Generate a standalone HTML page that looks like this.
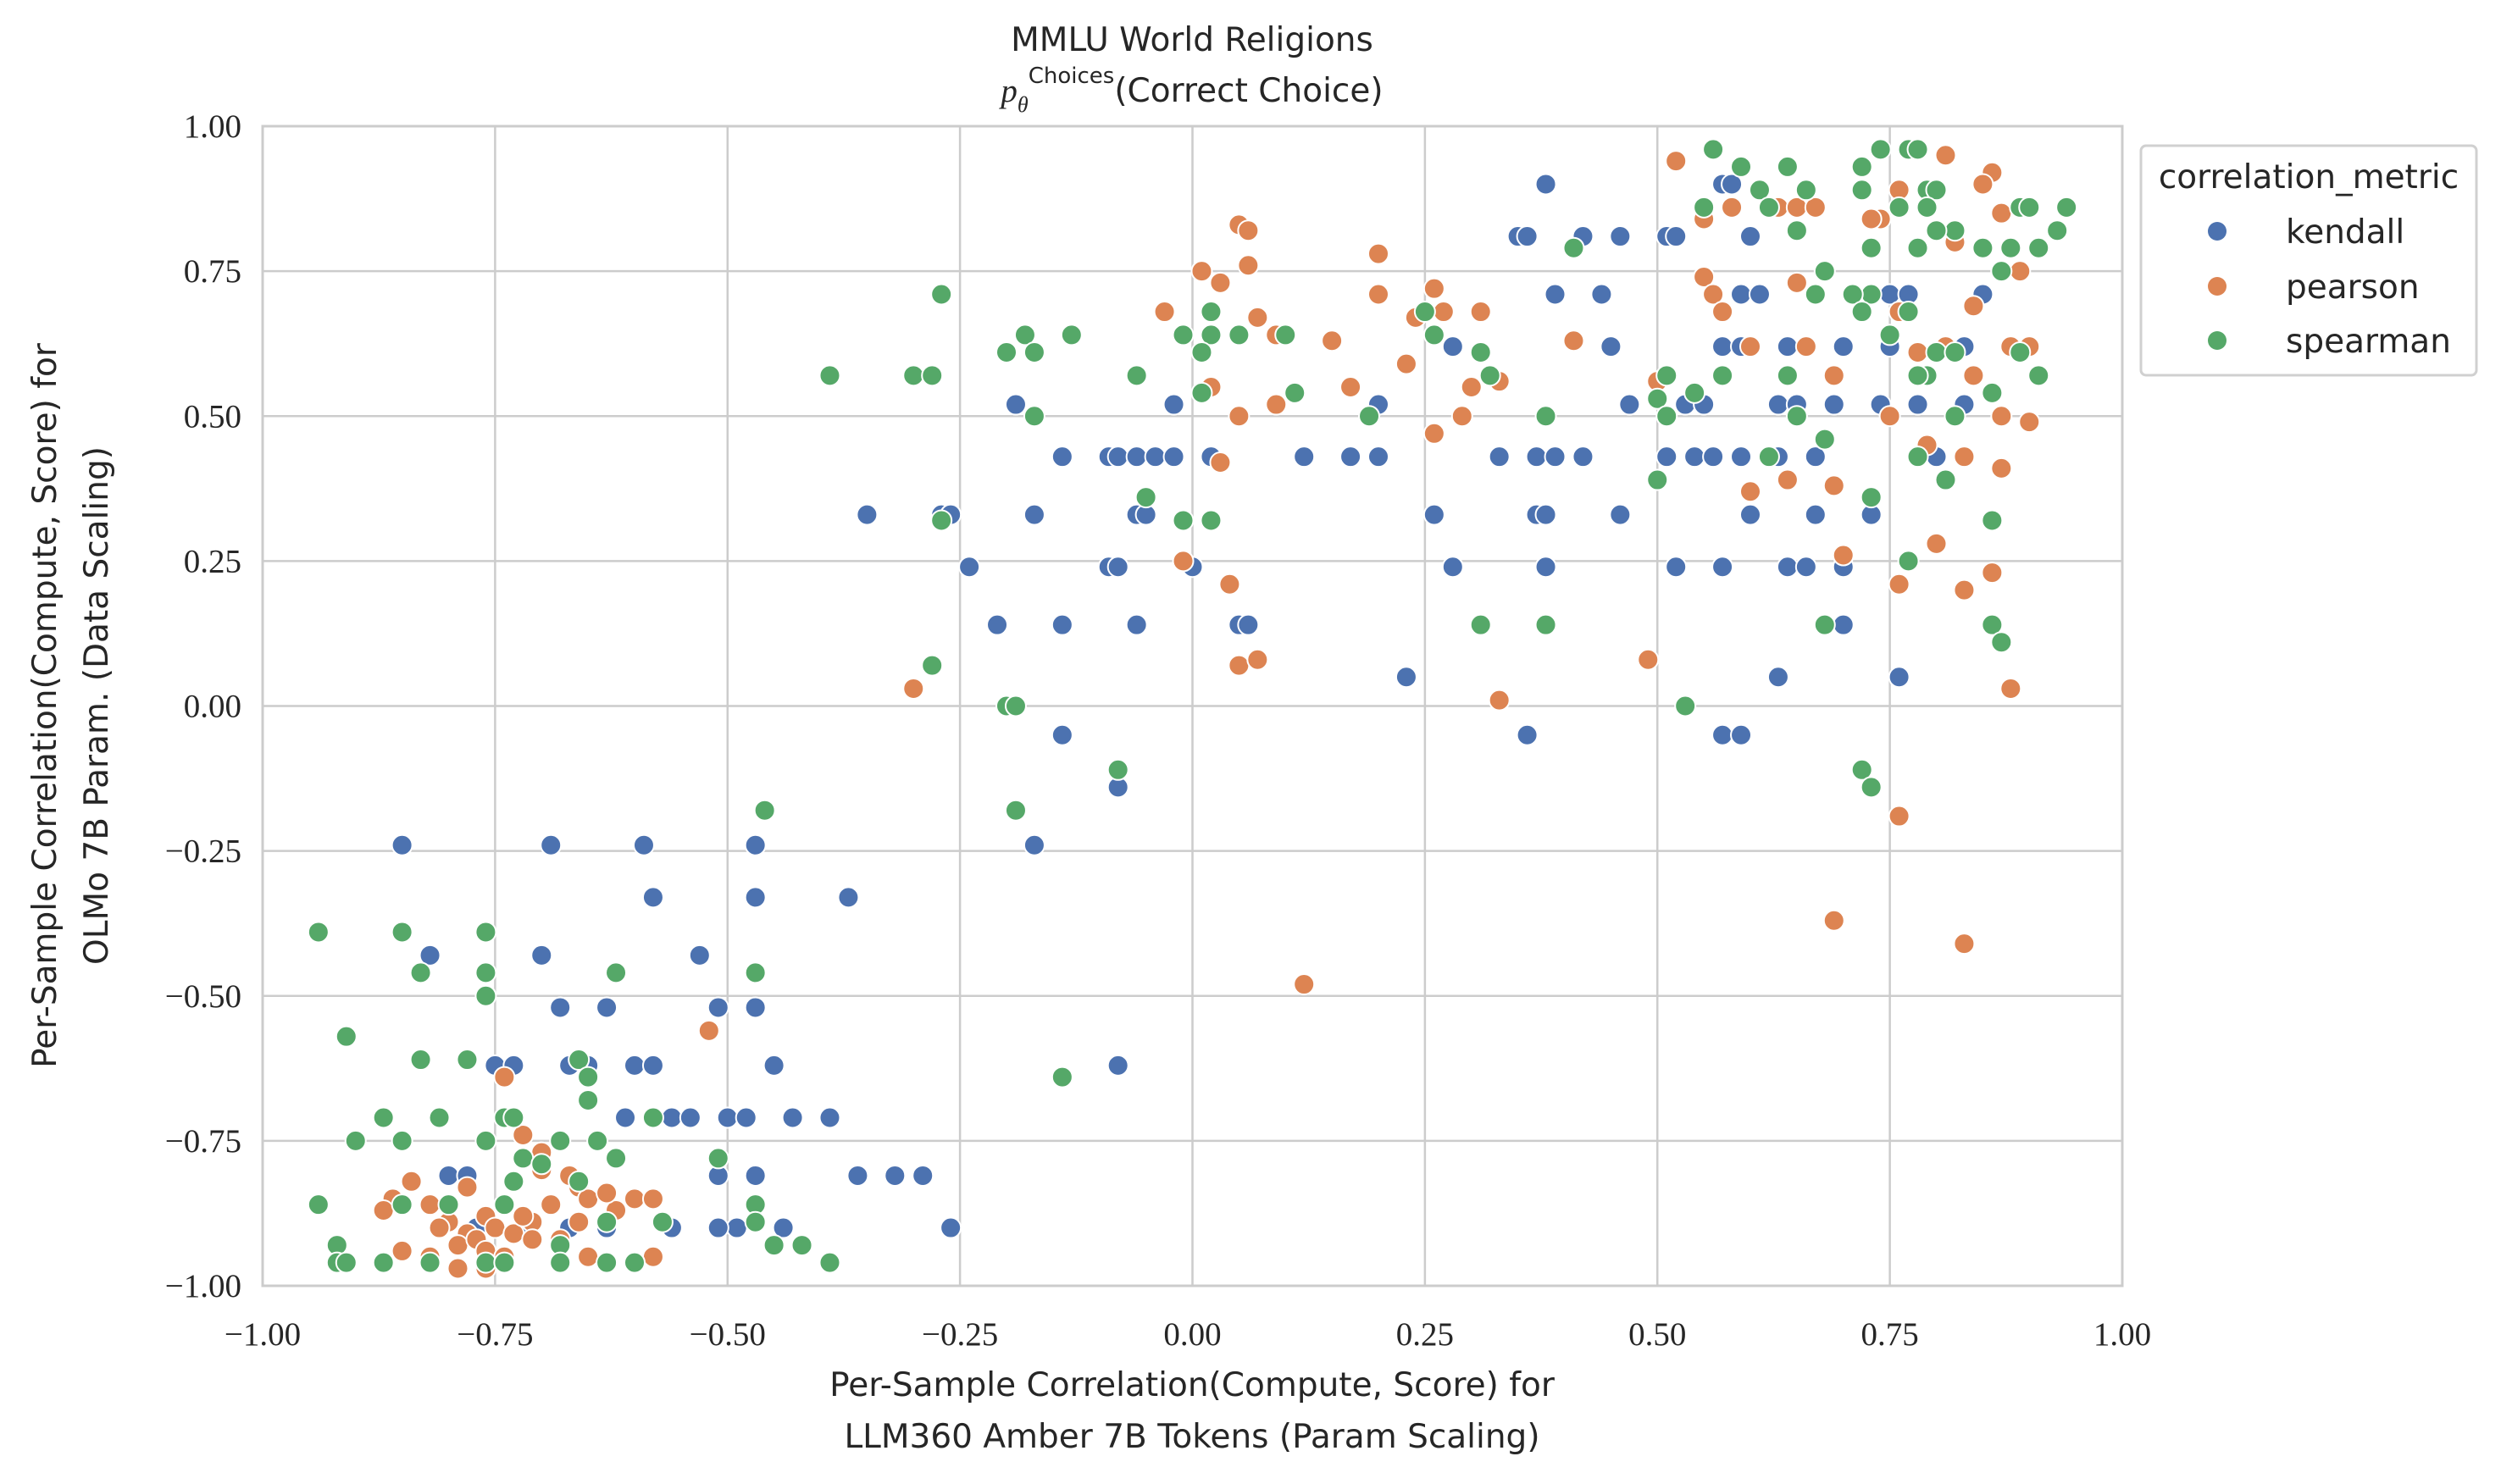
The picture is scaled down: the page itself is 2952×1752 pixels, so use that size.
<!DOCTYPE html>
<html><head><meta charset="utf-8"><style>
html,body{margin:0;padding:0;background:#fff;}
svg{display:block;}
.tick{font-family:"Liberation Serif","DejaVu Serif",serif;font-size:39px;fill:#262626;}
.lab{font-family:"DejaVu Sans","Liberation Sans",sans-serif;font-size:39px;fill:#262626;}
</style></head><body>
<svg id="chart" width="2952" height="1752" viewBox="0 0 2952 1752" xmlns="http://www.w3.org/2000/svg">
<rect width="2952" height="1752" fill="#fff"/>
<g id="grid"></g>
<g id="points"></g>
<rect x="310" y="149" width="2195" height="1369" fill="none" stroke="#cccccc" stroke-width="3"/>
<g id="ticks"></g>
<text class="lab" x="1407" y="60" text-anchor="middle">MMLU World Religions</text>
<text class="lab" x="1407" y="120" text-anchor="middle"><tspan font-family="Liberation Serif,serif" font-style="italic">p</tspan><tspan font-family="Liberation Serif,serif" font-style="italic" font-size="26" dy="12">θ</tspan><tspan font-size="26" dy="-34">Choices</tspan><tspan dy="22">(Correct Choice)</tspan></text>
<text class="lab" x="1407" y="1648" text-anchor="middle">Per-Sample Correlation(Compute, Score) for</text>
<text class="lab" x="1407" y="1709" text-anchor="middle">LLM360 Amber 7B Tokens (Param Scaling)</text>
<g transform="translate(0,833) rotate(-90)">
<text class="lab" x="0" y="66" text-anchor="middle">Per-Sample Correlation(Compute, Score) for</text>
<text class="lab" x="0" y="127" text-anchor="middle">OLMo 7B Param. (Data Scaling)</text>
</g>
<g>
<rect x="2527" y="172" width="396" height="271" rx="6" fill="#fff" stroke="#d0d0d0" stroke-width="3"/>
<text class="lab" x="2725" y="222" text-anchor="middle">correlation_metric</text>
<circle cx="2617" cy="273" r="11" fill="#4c72b0"/>
<text class="lab" x="2698" y="287">kendall</text>
<circle cx="2617" cy="338" r="11" fill="#dd8452"/>
<text class="lab" x="2698" y="352">pearson</text>
<circle cx="2617" cy="402" r="11" fill="#55a868"/>
<text class="lab" x="2698" y="416">spearman</text>
</g>
</svg>
<script>
const xTicks=[-1,-0.75,-0.5,-0.25,0,0.25,0.5,0.75,1];
const yTicks=[-1,-0.75,-0.5,-0.25,0,0.25,0.5,0.75,1];
const kendall=[[0.38,0.90],[0.35,0.81],[0.36,0.81],[0.42,0.81],[0.46,0.81],[0.51,0.81],[0.52,0.81],[0.60,0.81],[0.55,0.86],[0.57,0.90],[0.58,0.90],[0.39,0.71],[0.44,0.71],[0.59,0.71],[0.61,0.71],[0.75,0.71],[0.77,0.71],[0.85,0.71],[0.28,0.62],[0.45,0.62],[0.57,0.62],[0.59,0.62],[0.64,0.62],[0.70,0.62],[0.75,0.62],[0.83,0.62],[0.20,0.52],[0.53,0.52],[0.55,0.52],[0.63,0.52],[0.65,0.52],[0.69,0.52],[0.74,0.52],[0.78,0.52],[0.83,0.52],[0.47,0.52],[-0.19,0.52],[-0.02,0.52],[-0.09,0.43],[-0.08,0.43],[-0.06,0.43],[-0.04,0.43],[-0.02,0.43],[0.02,0.43],[0.12,0.43],[0.17,0.43],[0.20,0.43],[-0.14,0.43],[0.33,0.43],[0.37,0.43],[0.39,0.43],[0.42,0.43],[0.51,0.43],[0.54,0.43],[0.56,0.43],[0.59,0.43],[0.63,0.43],[0.67,0.43],[0.78,0.43],[0.80,0.43],[-0.17,0.33],[-0.35,0.33],[-0.27,0.33],[-0.26,0.33],[-0.06,0.33],[-0.05,0.33],[0.26,0.33],[0.37,0.33],[0.38,0.33],[0.46,0.33],[0.60,0.33],[0.67,0.33],[0.73,0.33],[-0.24,0.24],[-0.09,0.24],[-0.08,0.24],[0.00,0.24],[0.28,0.24],[0.38,0.24],[0.52,0.24],[0.57,0.24],[0.64,0.24],[0.66,0.24],[0.70,0.24],[-0.21,0.14],[-0.14,0.14],[-0.06,0.14],[0.05,0.14],[0.06,0.14],[0.70,0.14],[0.23,0.05],[0.63,0.05],[0.76,0.05],[-0.14,-0.05],[0.36,-0.05],[0.57,-0.05],[0.59,-0.05],[-0.08,-0.14],[-0.17,-0.24],[-0.08,-0.62],[-0.85,-0.24],[-0.69,-0.24],[-0.59,-0.24],[-0.47,-0.24],[-0.47,-0.33],[-0.58,-0.33],[-0.37,-0.33],[-0.82,-0.43],[-0.70,-0.43],[-0.53,-0.43],[-0.68,-0.52],[-0.63,-0.52],[-0.51,-0.52],[-0.47,-0.52],[-0.75,-0.62],[-0.73,-0.62],[-0.67,-0.62],[-0.65,-0.62],[-0.60,-0.62],[-0.58,-0.62],[-0.45,-0.62],[-0.61,-0.71],[-0.56,-0.71],[-0.54,-0.71],[-0.50,-0.71],[-0.48,-0.71],[-0.43,-0.71],[-0.39,-0.71],[-0.81,-0.71],[-0.51,-0.81],[-0.47,-0.81],[-0.36,-0.81],[-0.32,-0.81],[-0.29,-0.81],[-0.80,-0.81],[-0.78,-0.81],[-0.74,-0.86],[-0.63,-0.90],[-0.67,-0.90],[-0.56,-0.90],[-0.49,-0.90],[-0.44,-0.90],[-0.26,-0.90],[-0.77,-0.90],[-0.72,-0.90],[-0.51,-0.90]];
const pearson=[[0.52,0.94],[0.81,0.95],[0.86,0.92],[0.85,0.90],[0.76,0.89],[0.79,0.86],[0.58,0.86],[0.63,0.86],[0.65,0.86],[0.67,0.86],[0.74,0.84],[0.73,0.84],[0.55,0.84],[0.05,0.83],[0.06,0.82],[0.20,0.78],[0.06,0.76],[0.01,0.75],[0.55,0.74],[0.65,0.73],[0.03,0.73],[0.56,0.71],[0.20,0.71],[0.87,0.75],[0.89,0.75],[0.26,0.72],[-0.03,0.68],[0.07,0.67],[0.24,0.67],[0.27,0.68],[0.31,0.68],[0.57,0.68],[0.76,0.68],[0.84,0.69],[0.15,0.63],[0.41,0.63],[0.60,0.62],[0.66,0.62],[0.81,0.62],[0.88,0.62],[0.90,0.62],[0.09,0.64],[0.23,0.59],[0.33,0.56],[0.30,0.55],[0.17,0.55],[0.02,0.55],[0.69,0.57],[0.84,0.57],[0.50,0.56],[0.05,0.50],[0.09,0.52],[0.29,0.50],[0.75,0.50],[0.87,0.50],[0.90,0.49],[0.26,0.47],[0.79,0.45],[0.83,0.43],[0.64,0.39],[0.60,0.37],[0.69,0.38],[0.87,0.41],[0.03,0.42],[-0.01,0.25],[0.04,0.21],[0.70,0.26],[0.80,0.28],[0.76,0.21],[0.83,0.20],[0.86,0.23],[0.05,0.07],[0.07,0.08],[0.49,0.08],[-0.30,0.03],[0.33,0.01],[0.88,0.03],[0.76,-0.19],[0.69,-0.37],[0.83,-0.41],[0.12,-0.48],[0.94,0.86],[0.78,0.61],[0.82,0.80],[0.87,0.85],[-0.52,-0.56],[-0.74,-0.64],[-0.73,-0.71],[-0.72,-0.74],[-0.70,-0.77],[-0.84,-0.82],[-0.78,-0.83],[-0.66,-0.83],[-0.74,-0.86],[-0.65,-0.85],[-0.60,-0.85],[-0.86,-0.85],[-0.82,-0.86],[-0.76,-0.88],[-0.71,-0.89],[-0.69,-0.86],[-0.87,-0.87],[-0.80,-0.89],[-0.78,-0.91],[-0.75,-0.90],[-0.73,-0.91],[-0.72,-0.88],[-0.66,-0.89],[-0.62,-0.87],[-0.58,-0.85],[-0.81,-0.90],[-0.79,-0.93],[-0.77,-0.92],[-0.76,-0.94],[-0.85,-0.94],[-0.82,-0.95],[-0.79,-0.97],[-0.74,-0.95],[-0.71,-0.92],[-0.68,-0.92],[-0.65,-0.95],[-0.58,-0.95],[-0.76,-0.97],[-0.63,-0.84],[-0.70,-0.80],[-0.67,-0.81]];
const spearman=[[0.56,0.96],[0.74,0.96],[0.77,0.96],[0.78,0.96],[0.64,0.93],[0.72,0.93],[0.59,0.93],[0.61,0.89],[0.66,0.89],[0.79,0.89],[0.80,0.89],[0.72,0.89],[0.55,0.86],[0.62,0.86],[0.76,0.86],[0.79,0.86],[0.89,0.86],[0.90,0.86],[0.94,0.86],[0.93,0.82],[0.65,0.82],[0.82,0.82],[0.80,0.82],[0.41,0.79],[0.73,0.79],[0.78,0.79],[0.85,0.79],[0.88,0.79],[0.91,0.79],[0.68,0.75],[0.87,0.75],[0.73,0.71],[0.67,0.71],[0.71,0.71],[0.75,0.64],[0.72,0.68],[0.77,0.68],[-0.27,0.71],[0.25,0.68],[0.26,0.64],[0.10,0.64],[0.05,0.64],[-0.01,0.64],[0.02,0.64],[-0.13,0.64],[-0.18,0.64],[-0.20,0.61],[-0.17,0.61],[0.01,0.61],[0.31,0.61],[0.02,0.68],[0.80,0.61],[0.89,0.61],[0.82,0.61],[-0.39,0.57],[-0.30,0.57],[-0.28,0.57],[-0.06,0.57],[0.32,0.57],[0.51,0.57],[0.57,0.57],[0.64,0.57],[0.79,0.57],[0.78,0.57],[0.91,0.57],[0.86,0.54],[0.01,0.54],[0.11,0.54],[0.50,0.53],[0.54,0.54],[0.65,0.50],[-0.17,0.50],[0.19,0.50],[0.38,0.50],[0.51,0.50],[0.82,0.50],[0.68,0.46],[0.62,0.43],[0.78,0.43],[0.50,0.39],[0.81,0.39],[0.73,0.36],[-0.05,0.36],[-0.01,0.32],[0.02,0.32],[-0.27,0.32],[0.86,0.32],[0.77,0.25],[0.31,0.14],[0.38,0.14],[0.68,0.14],[0.86,0.14],[0.87,0.11],[-0.28,0.07],[-0.20,0.0],[-0.19,0.0],[0.53,0.0],[-0.08,-0.11],[0.72,-0.11],[0.73,-0.14],[-0.19,-0.18],[-0.14,-0.64],[-0.46,-0.18],[-0.94,-0.39],[-0.85,-0.39],[-0.76,-0.39],[-0.91,-0.57],[-0.83,-0.46],[-0.76,-0.46],[-0.62,-0.46],[-0.47,-0.46],[-0.76,-0.50],[-0.83,-0.61],[-0.78,-0.61],[-0.66,-0.61],[-0.65,-0.64],[-0.65,-0.68],[-0.87,-0.71],[-0.81,-0.71],[-0.74,-0.71],[-0.73,-0.71],[-0.58,-0.71],[-0.90,-0.75],[-0.85,-0.75],[-0.76,-0.75],[-0.68,-0.75],[-0.64,-0.75],[-0.72,-0.78],[-0.51,-0.78],[-0.62,-0.78],[-0.70,-0.79],[-0.73,-0.82],[-0.66,-0.82],[-0.85,-0.86],[-0.80,-0.86],[-0.74,-0.86],[-0.47,-0.86],[-0.94,-0.86],[-0.47,-0.89],[-0.63,-0.89],[-0.57,-0.89],[-0.68,-0.93],[-0.92,-0.93],[-0.45,-0.93],[-0.42,-0.93],[-0.92,-0.96],[-0.91,-0.96],[-0.87,-0.96],[-0.82,-0.96],[-0.76,-0.96],[-0.74,-0.96],[-0.68,-0.96],[-0.63,-0.96],[-0.60,-0.96],[-0.39,-0.96]];

const NS='http://www.w3.org/2000/svg';
const X0=310,X1=2505,Y0=1518,Y1=149;
function sx(v){return X0+(v+1)/2*(X1-X0);}
function sy(v){return Y0-(v+1)/2*(Y0-Y1);}
function fmt(v){return (v<0?'\u2212':'')+Math.abs(v).toFixed(2);}
const grid=document.getElementById('grid'),ticks=document.getElementById('ticks'),pts=document.getElementById('points');
xTicks.forEach(v=>{
  const l=document.createElementNS(NS,'line');
  
  
  l.setAttribute('x1',sx(v));l.setAttribute('x2',sx(v));l.setAttribute('y1',Y1);l.setAttribute('y2',Y0);
  l.setAttribute('stroke','#cccccc');l.setAttribute('stroke-width','2.5');grid.appendChild(l);
  const t=document.createElementNS(NS,'text');
  
  
  t.setAttribute('class','tick');t.setAttribute('x',sx(v));t.setAttribute('y',1588);t.setAttribute('text-anchor','middle');
  t.textContent=fmt(v);ticks.appendChild(t);
});
yTicks.forEach(v=>{
  const l=document.createElementNS(NS,'line');
  
  
  l.setAttribute('x1',X0);l.setAttribute('x2',X1);l.setAttribute('y1',sy(v));l.setAttribute('y2',sy(v));
  l.setAttribute('stroke','#cccccc');l.setAttribute('stroke-width','2.5');grid.appendChild(l);
  const t=document.createElementNS(NS,'text');
  
  
  t.setAttribute('class','tick');t.setAttribute('x',285);t.setAttribute('y',sy(v)+13);t.setAttribute('text-anchor','end');
  t.textContent=fmt(v);ticks.appendChild(t);
});
function draw(arr,color,name){
  arr.forEach(p=>{
    const c=document.createElementNS(NS,'circle');
    
    
    c.setAttribute('cx',sx(p[0]));c.setAttribute('cy',sy(p[1]));c.setAttribute('r',12);
    c.setAttribute('fill',color);c.setAttribute('stroke','#fff');c.setAttribute('stroke-width','2');
    pts.appendChild(c);
  });
}
draw(kendall,'#4c72b0','point-kendall');
draw(pearson,'#dd8452','point-pearson');
draw(spearman,'#55a868','point-spearman');
</script>
</body></html>
